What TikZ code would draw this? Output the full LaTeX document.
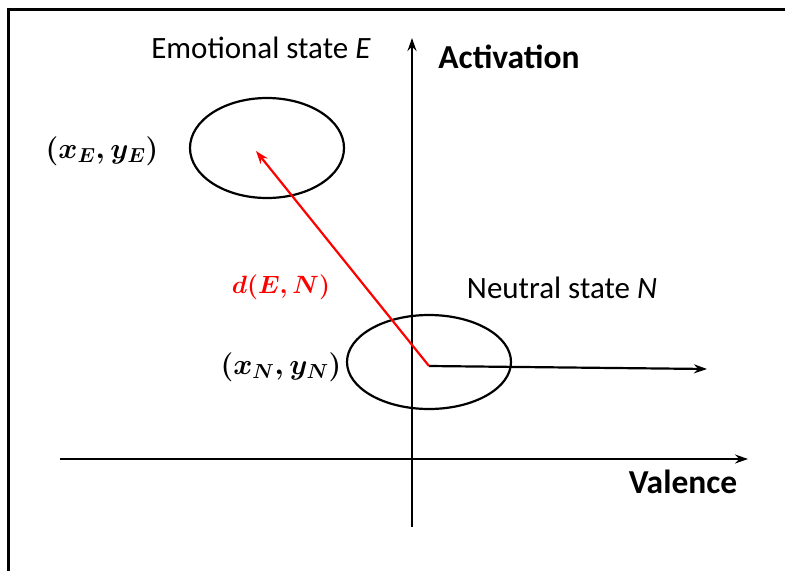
\RequirePackage{fix-cm}
\documentclass[tikz,border=0pt]{standalone}
\usepackage{amsmath,amssymb,bm}
\usepackage{fontspec}
\setmainfont{Carlito}
\usepackage{tikz}
\usetikzlibrary{positioning,arrows.meta,calc,shapes.geometric}
\usepackage{xcolor}

\begin{document}
\begin{tikzpicture}[x=1pt,y=-1pt,>={Stealth[length=13pt,width=9pt]},
  lbl/.style={inner sep=0pt,font=\fontsize{31}{36}\selectfont},
  axlbl/.style={inner sep=0pt,font=\fontsize{33.5}{38}\selectfont\bfseries},
  mathlbl/.style={inner sep=0pt,font=\fontsize{29}{34}\selectfont\boldmath},
  state/.style={draw,ellipse,line width=2.2pt,inner sep=0pt}]
\useasboundingbox (0,0) rectangle (785,571);
% frame (top and left only)
\draw[line width=3pt] (8,571) -- (8,9) -- (785,9);
% axes
\coordinate (vbot) at (412,527);
\coordinate (vtop) at (412,38);
\coordinate (hleft) at (60,459);
\coordinate (hright) at (748,459);
\draw[->,line width=2.2pt] (vbot) -- (vtop);
\draw[->,line width=2.2pt] (hleft) -- (hright);
\node[axlbl,anchor=base] (act) at (509,68) {Activation};
\node[axlbl,anchor=base] (val) at (683,493) {Valence};
% states
\node[state,minimum width=154pt,minimum height=100pt] (E) at (267,148) {};
\node[state,minimum width=164pt,minimum height=94pt] (N) at (429,362) {};
\node[lbl,anchor=base] (Elbl) at (261,58) {Emotional state \textit{E}};
\node[lbl,anchor=base] (Nlbl) at (562,298) {Neutral state \textit{N}};
\node[mathlbl] (xE) at (102,151) {$(\bm{x_E},\bm{y_E})$};
\node[mathlbl] (xN) at (281,367) {$(\bm{x_N},\bm{y_N})$};
\coordinate (Nc) at (429,366);
\coordinate (Ec) at (256,151);
\coordinate (Vtip) at (707,369);
\draw[->,red,line width=2.2pt] (Nc) -- (Ec);
\draw[->,line width=2.2pt] (Nc) -- (Vtip);
\node[mathlbl,text=red,font=\fontsize{25}{30}\selectfont\boldmath] (d) at (281,287) {$\bm{d(E,N)}$};
\end{tikzpicture}
\end{document}
